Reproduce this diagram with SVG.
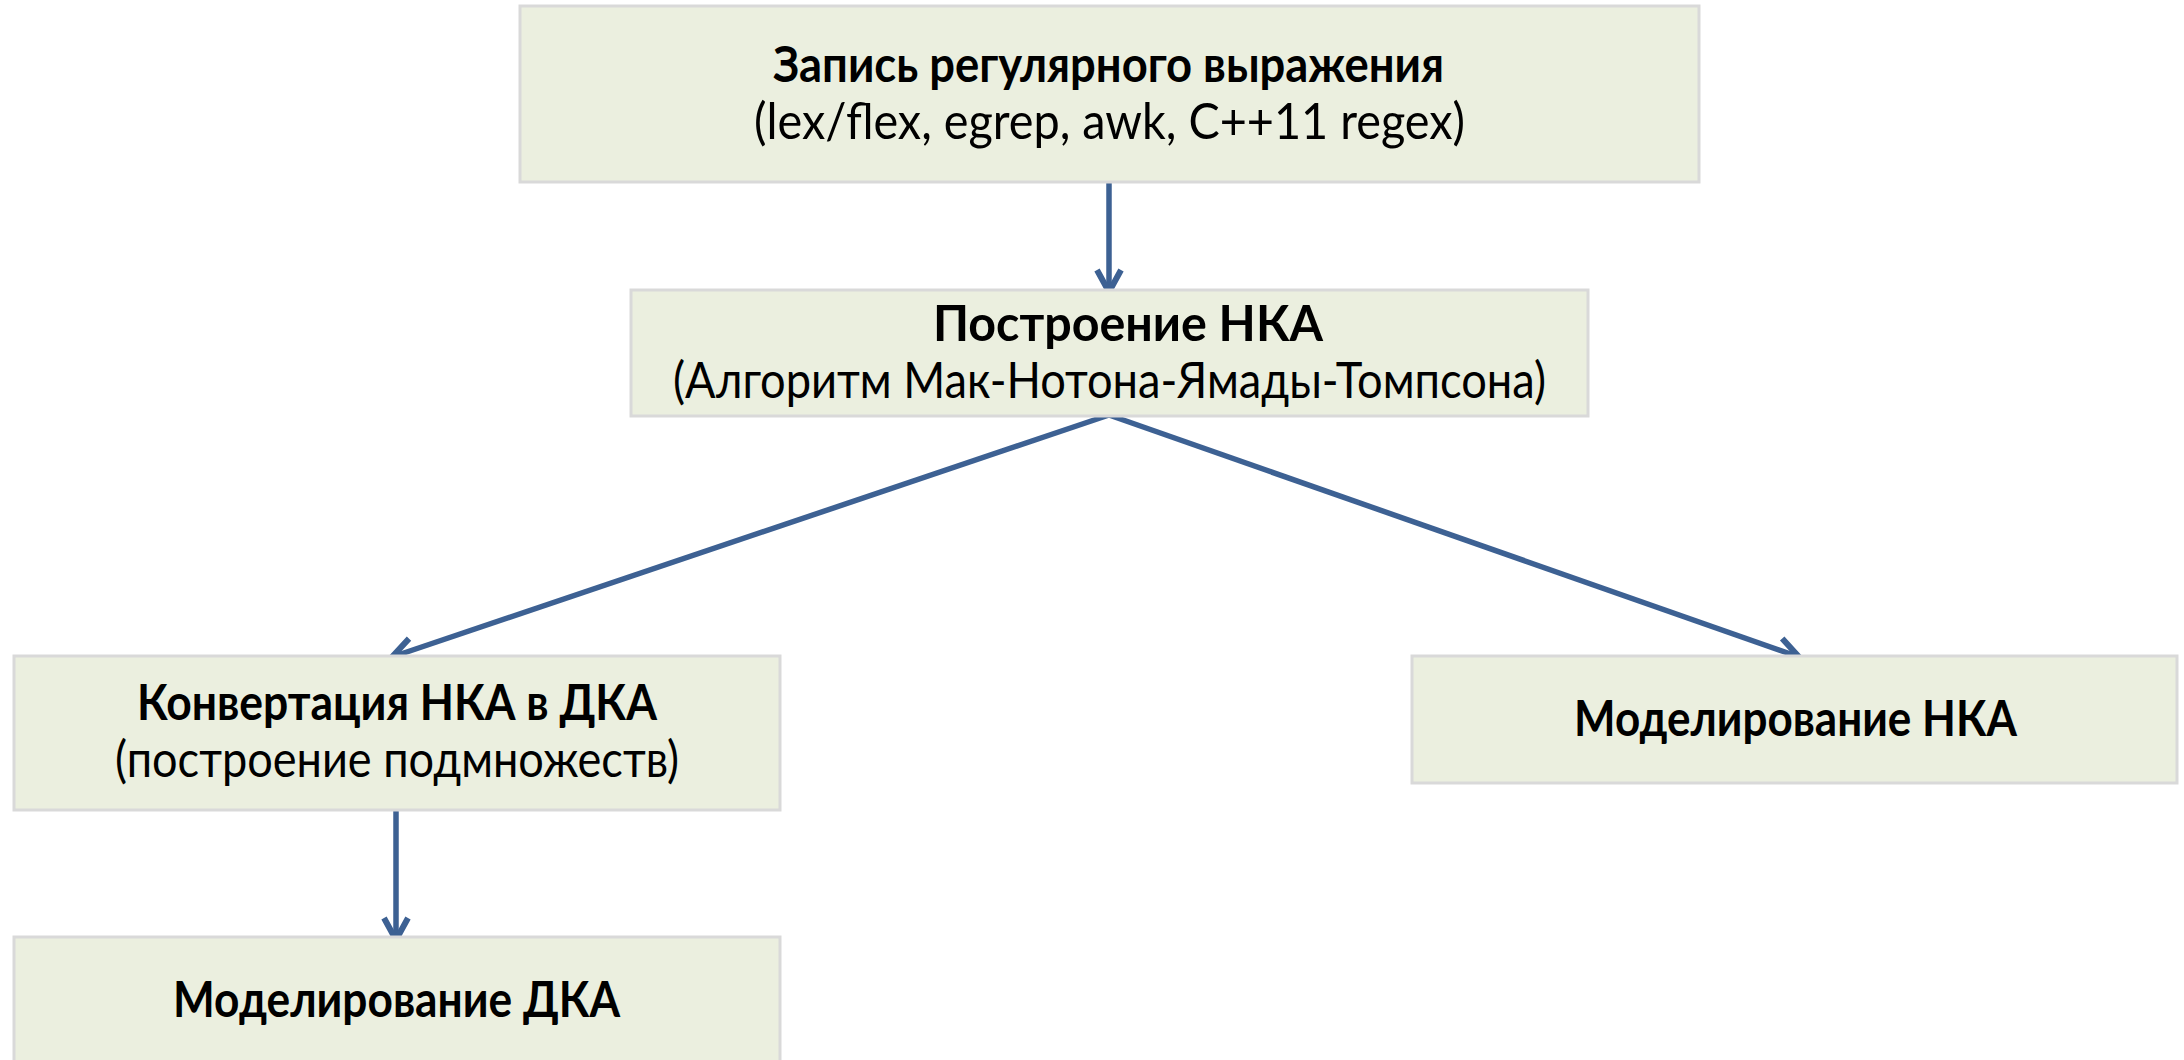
<svg xmlns="http://www.w3.org/2000/svg" width="2184" height="1060" viewBox="0 0 2184 1060">
<style>
.box{fill:#EBEFDF;stroke:#D9D9D9;stroke-width:3}
.t{font-family:Lato,"Open Sans","Liberation Sans",sans-serif;font-size:50px;fill:#000;text-anchor:middle}
.b{font-weight:bold}
.c{fill:none;stroke:#3D6193;stroke-width:5.5}
</style>
<defs>
<marker id="ah" markerUnits="userSpaceOnUse" markerWidth="50" markerHeight="50" viewBox="-35 -25 50 50" refX="0" refY="0" orient="auto">
<path d="M-22,-12 L0,0 L-22,12" fill="none" stroke="#3D6193" stroke-width="6" stroke-linejoin="miter"/>
</marker>
</defs>
<rect width="2184" height="1060" fill="#fff"/>
<g id="connectors">
<line class="c" x1="1109" y1="183" x2="1109" y2="292" marker-end="url(#ah)"/>
<line class="c" x1="1109" y1="415" x2="392" y2="657" marker-end="url(#ah)"/>
<line class="c" x1="1109" y1="415" x2="1799" y2="657" marker-end="url(#ah)"/>
<line class="c" x1="396" y1="811" x2="396" y2="940" marker-end="url(#ah)"/>
</g>
<g id="node1">
<rect class="box" x="520" y="6" width="1179" height="176"/>
<text class="t b" x="1108.5" y="82" textLength="671" lengthAdjust="spacingAndGlyphs">Запись регулярного выражения</text>
<text class="t" x="1109.5" y="139" textLength="711" lengthAdjust="spacingAndGlyphs">(lex/flex, egrep, awk, C++11 regex)</text>
</g>
<g id="node2">
<rect class="box" x="631" y="290" width="957" height="126"/>
<text class="t b" x="1128" y="341" textLength="390" lengthAdjust="spacingAndGlyphs">Построение НКА</text>
<text class="t" x="1109.5" y="398" textLength="873" lengthAdjust="spacingAndGlyphs">(Алгоритм Мак-Нотона-Ямады-Томпсона)</text>
</g>
<g id="node3">
<rect class="box" x="14" y="656" width="766" height="154"/>
<text class="t b" x="397" y="720" textLength="520" lengthAdjust="spacingAndGlyphs">Конвертация НКА в ДКА</text>
<text class="t" x="397" y="777" textLength="564" lengthAdjust="spacingAndGlyphs">(построение подмножеств)</text>
</g>
<g id="node4">
<rect class="box" x="1412" y="656" width="765" height="127"/>
<text class="t b" x="1795.5" y="736" textLength="443" lengthAdjust="spacingAndGlyphs">Моделирование НКА</text>
</g>
<g id="node5">
<rect class="box" x="14" y="937" width="766" height="128"/>
<text class="t b" x="396.5" y="1017" textLength="447" lengthAdjust="spacingAndGlyphs">Моделирование ДКА</text>
</g>
</svg>
